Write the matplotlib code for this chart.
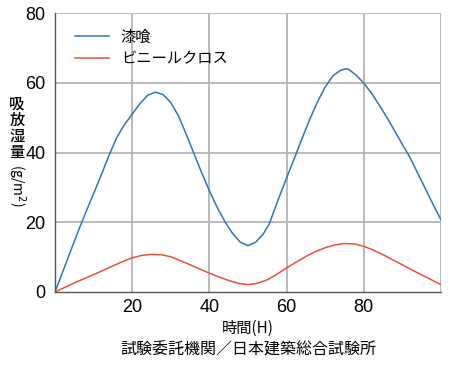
import matplotlib
matplotlib.use("Agg")
import matplotlib.pyplot as plt
from matplotlib import font_manager

plt.rcParams['font.family'] = ['Noto Sans CJK JP', 'DejaVu Sans']

# Data
blue_t = [0, 2, 4, 6, 8, 10, 12, 14, 16, 18, 20, 22, 24, 26, 28, 30, 32, 34, 36, 38, 40,
          42, 44, 46, 48, 50, 52, 54, 55.5, 56, 58, 60, 62, 64, 66, 68, 70, 72, 74, 75.3, 76, 78, 80,
          82, 84, 86, 88, 90, 92, 94, 96, 98, 100]
blue_v = [0, 5.8, 11.6, 17.4, 22.9, 28.2, 33.6, 39.2, 44.3, 48, 51, 54, 56.4, 57.3, 56.6, 54.3, 50.5, 45.2, 39.7, 34.2, 29,
          24.3, 20.2, 16.8, 14.3, 13.3, 14.3, 16.7, 19.5, 21, 27, 32.7, 38.3, 44, 49.5, 54.5, 58.8, 62, 63.6, 64, 63.9, 62.2, 59.9,
          57, 53.6, 50, 46.2, 42.3, 38.5, 34, 29.5, 25, 20.7]
red_t = [0, 2.5, 5, 7.5, 10, 12.5, 15, 17.5, 20, 22.5, 25, 27.5, 30, 32.5, 35, 37.5, 40, 42.5, 45, 47.5,
         50, 52.5, 55, 57.5, 60, 62.5, 65, 67.5, 70, 72.5, 75, 77.5, 80, 82.5, 85, 87.5, 90, 92.5, 95, 97.5, 100]
red_v = [0, 1.3, 2.6, 3.8, 5.0, 6.2, 7.5, 8.7, 9.8, 10.5, 10.8, 10.7, 10.1, 9.0, 7.8, 6.6, 5.4, 4.3, 3.3, 2.5,
         2.1, 2.5, 3.5, 5.1, 6.9, 8.6, 10.2, 11.6, 12.7, 13.5, 13.9, 13.8, 13.1, 12.0, 10.7, 9.2, 7.8, 6.3, 4.9, 3.5, 2.1]
series_names = ['漆喰', 'ビニールクロス']
x_ticks = [20, 40, 60, 80]
y_ticks = [0, 20, 40, 60, 80]

installed = {f.name for f in font_manager.fontManager.ttflist}
num_family = ['Liberation Sans Narrow'] if 'Liberation Sans Narrow' in installed else ['Liberation Sans']

fig = plt.figure(figsize=(4.5, 3.65), dpi=100)
ax = fig.add_axes([55/450, 73/365, 386/450, 279/365])

grid_c = '#b4b4b4'
for x in [20, 40, 60, 80, 100]:
    ax.axvline(x, color=grid_c, lw=1.3, zorder=0)
for y in [20, 40, 60, 80]:
    ax.axhline(y, color=grid_c, lw=1.3, zorder=0)

ax.plot(blue_t, blue_v, color='#2f74b8', lw=1.1, label=series_names[0])
ax.plot(red_t, red_v, color='#e8503a', lw=1.1, label=series_names[1])

ax.set_xlim(0, 100)
ax.set_ylim(0, 80)
ax.set_xticks(x_ticks)
ax.set_yticks(y_ticks)
ax.tick_params(length=0, labelsize=13)
ax.tick_params(axis='x', pad=5)
ax.tick_params(axis='y', pad=7)
for lab in ax.get_xticklabels() + ax.get_yticklabels():
    lab.set_family(num_family)
for s in ['top', 'right']:
    ax.spines[s].set_visible(False)
for s in ['left', 'bottom']:
    ax.spines[s].set_color('#555555')
    ax.spines[s].set_linewidth(1.0)

leg = ax.legend(loc='upper left', bbox_to_anchor=(0.052, 0.945), frameon=False,
                fontsize=11, handlelength=2.2, handletextpad=0.8, labelspacing=0.35,
                borderaxespad=0, borderpad=0)

ax.set_xlabel('時間(H)', fontsize=11, labelpad=3)

# vertical y-label
for ch, yy in zip('吸放湿量', [104, 120, 136, 152]):
    fig.text(17/450, 1 - yy/365, ch, fontsize=11, ha='center', va='center', weight='medium')
fig.text(17/450, 1 - 185/365, '(g/m$^2$)', fontsize=10, ha='center', va='center', rotation=-90)

fig.text(248/450, 1 - 350/365, '試験委託機関／日本建築総合試験所', fontsize=11.5, ha='center', va='center')

fig.savefig('out.png', dpi=100)
